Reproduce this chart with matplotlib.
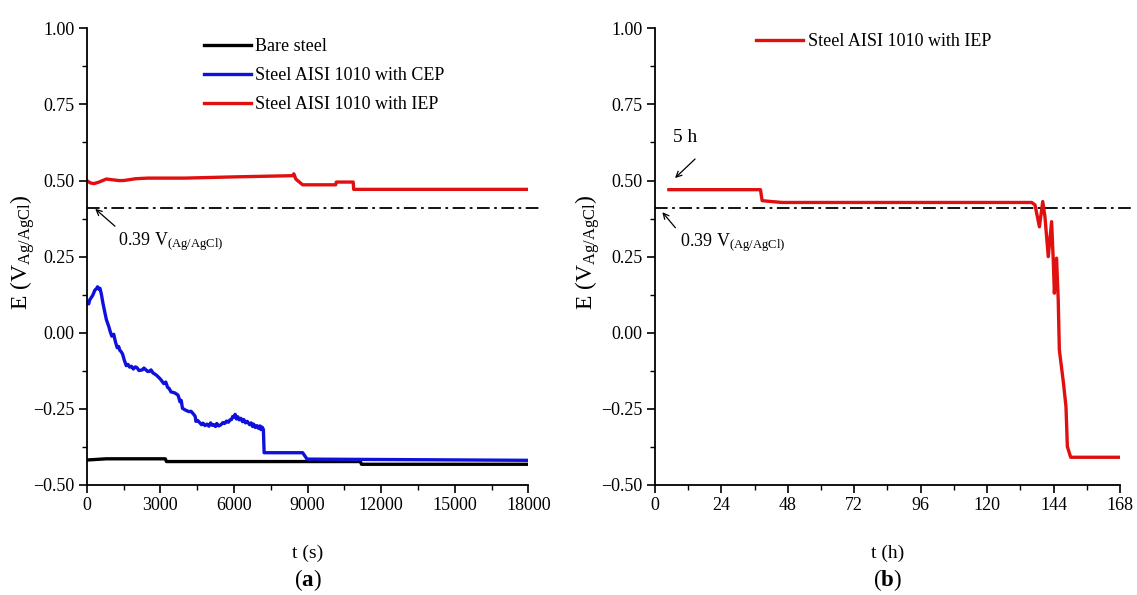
import matplotlib
matplotlib.use("Agg")
import matplotlib.pyplot as plt
from matplotlib.ticker import MultipleLocator

plt.rcParams['font.family'] = ['Liberation Serif', 'DejaVu Serif']
plt.rcParams['mathtext.fontset'] = 'custom'
plt.rcParams['mathtext.rm'] = 'Liberation Serif'
plt.rcParams['mathtext.it'] = 'Liberation Serif:italic'
plt.rcParams['mathtext.bf'] = 'Liberation Serif:bold'

# ---------------- data (a) ----------------
bare_t = [0, 800, 3200, 3250, 11150, 11200, 18000]
bare_E = [-0.418, -0.414, -0.414, -0.423, -0.423, -0.432, -0.432]

cep_t = [0, 40, 80, 120, 180, 250, 330, 400, 440, 500, 540, 600, 660, 730, 800, 900, 960, 1020,
         1100, 1170, 1240, 1300, 1350, 1400, 1460, 1530, 1610, 1680, 1750, 1820, 1900, 1980, 2050,
         2130, 2260, 2330, 2400, 2480, 2550, 2620, 2700, 2780, 2850, 3000, 3140, 3220, 3300, 3360,
         3430, 3520, 3600, 3720, 3760, 3800, 3850, 3900, 3980, 4050, 4160, 4250, 4380, 4420, 4450,
         4520, 4600, 4680, 4740, 4820, 4900, 4980, 5050, 5120, 5180, 5250, 5300, 5380, 5470, 5550,
         5620, 5700, 5770, 5840, 5900, 5950, 5990, 6050, 6100, 6160, 6210, 6280, 6350, 6400, 6470,
         6540, 6640, 6700, 6760, 6800, 6870, 6940, 7000, 7060, 7100, 7150, 7200, 7230, 8800, 8980,
         18000]
cep_E = [0.097, 0.10, 0.095, 0.108, 0.115, 0.124, 0.14, 0.145, 0.151, 0.143, 0.146, 0.125, 0.097,
         0.07, 0.043, 0.02, 0.003, -0.011, -0.005, -0.03, -0.049, -0.045, -0.058, -0.062, -0.070,
         -0.09, -0.108, -0.104, -0.113, -0.110, -0.119, -0.112, -0.115, -0.124, -0.122, -0.116,
         -0.121, -0.127, -0.127, -0.122, -0.132, -0.136, -0.140, -0.152, -0.167, -0.162, -0.180,
         -0.183, -0.194, -0.196, -0.198, -0.205, -0.215, -0.227, -0.222, -0.248, -0.252, -0.255,
         -0.259, -0.258, -0.270, -0.275, -0.291, -0.288, -0.295, -0.302, -0.297, -0.305, -0.300,
         -0.307, -0.296, -0.304, -0.302, -0.308, -0.298, -0.306, -0.302, -0.295, -0.298, -0.290,
         -0.294, -0.286, -0.285, -0.275, -0.277, -0.268, -0.283, -0.276, -0.286, -0.281, -0.292,
         -0.285, -0.296, -0.291, -0.302, -0.296, -0.308, -0.300, -0.311, -0.305, -0.314, -0.306,
         -0.318, -0.310, -0.318, -0.394, -0.394, -0.415, -0.419]

iep_t = [0, 150, 300, 500, 800, 1100, 1300, 1500, 2000, 2500, 4000, 6000, 8400, 8440, 8520,
         8800, 10150, 10170, 10860, 10880, 18000]
iep_E = [0.500, 0.492, 0.490, 0.495, 0.505, 0.502, 0.500, 0.500, 0.506, 0.508, 0.508, 0.512,
         0.516, 0.522, 0.505, 0.486, 0.486, 0.495, 0.495, 0.471, 0.471]

# ---------------- data (b) ----------------
iep_h = [5, 38.1, 38.7, 42, 46, 136.1, 137.3, 138.9, 140.1, 140.9, 142.1, 143.3, 143.9, 144.3,
         145.1, 145.7, 146.1, 147.6, 148.5, 149.0, 150.2, 168]
iep_hE = [0.470, 0.470, 0.434, 0.431, 0.428, 0.428, 0.420, 0.348, 0.431, 0.381, 0.250, 0.365,
          0.239, 0.130, 0.245, 0.108, -0.056, -0.166, -0.243, -0.374, -0.409, -0.409]

threshold = 0.41

fig = plt.figure(figsize=(11.37, 5.95), dpi=100)
axa = fig.add_axes([0.0763, 0.1849, 0.3884, 0.7675])
axb = fig.add_axes([0.5761, 0.1849, 0.4089, 0.7675])

LW = 2.4
axa.plot(bare_t, bare_E, color='black', lw=LW, label='Bare steel')
axa.plot(cep_t, cep_E, color='#1010dd', lw=LW, label='Steel AISI 1010 with CEP')
axa.plot(iep_t, iep_E, color='#e01010', lw=LW, label='Steel AISI 1010 with IEP')
axb.plot(iep_h, iep_hE, color='#e01010', lw=LW, label='Steel AISI 1010 with IEP')

axa.plot([0, 18540], [threshold, threshold], color='black', lw=1.3, ls=(0, (7, 2.5, 1.5, 2.5)),
         clip_on=False)
axb.plot([0, 173], [threshold, threshold], color='black', lw=1.3, ls=(0, (7, 2.5, 1.5, 2.5)),
         clip_on=False)

for ax, xmax, xmaj, xmin_ in [(axa, 18000, 3000, 1500), (axb, 168, 24, 12)]:
    ax.set_xlim(0, xmax)
    ax.set_ylim(-0.5, 1.0)
    ax.xaxis.set_major_locator(MultipleLocator(xmaj))
    ax.xaxis.set_minor_locator(MultipleLocator(xmin_))
    ax.yaxis.set_major_locator(MultipleLocator(0.25))
    ax.yaxis.set_minor_locator(MultipleLocator(0.125))
    ax.yaxis.set_major_formatter(plt.FuncFormatter(lambda v, p: f"{v:.2f}".replace('-', '\u2212')))
    for s in ['top', 'right']:
        ax.spines[s].set_visible(False)
    ax.spines['left'].set_linewidth(1.3)
    ax.spines['bottom'].set_linewidth(1.3)
    ax.tick_params(which='major', direction='out', length=6, width=1.2, labelsize=13, pad=3)
    ax.tick_params(which='minor', direction='out', length=3.5, width=1.0)
    ax.set_ylabel(r'E (V$_{\mathrm{Ag/AgCl}}$)', fontsize=17)

axa.yaxis.set_label_coords(-0.113, 0.51)
axb.yaxis.set_label_coords(-0.115, 0.51)

axa.set_xlabel('t (s)', fontsize=14, labelpad=22)
axb.set_xlabel('t (h)', fontsize=14, labelpad=22)

axa.legend(loc='upper left', bbox_to_anchor=(0.265, 0.978), frameon=False, fontsize=13,
           handlelength=2.6, handletextpad=0.25, labelspacing=0.66, borderpad=0, borderaxespad=0)
axb.legend(loc='upper left', bbox_to_anchor=(0.218, 0.99), frameon=False, fontsize=13,
           handlelength=2.6, handletextpad=0.25, borderpad=0, borderaxespad=0)

# annotations
axa.annotate('', xy=(260, 0.413), xytext=(1235, 0.344),
             arrowprops=dict(arrowstyle='->', color='black', lw=0.9))
axa.text(1280, 0.30, r'0.39 V$_{\mathrm{(Ag/AgCl)}}$', fontsize=13, va='center', ha='left')

axb.annotate('', xy=(2.0, 0.403), xytext=(8.0, 0.338),
             arrowprops=dict(arrowstyle='->', color='black', lw=0.9))
axb.text(9, 0.295, r'0.39 V$_{\mathrm{(Ag/AgCl)}}$', fontsize=13, va='center', ha='left')

axb.annotate('', xy=(6.5, 0.502), xytext=(15.2, 0.577),
             arrowprops=dict(arrowstyle='->', color='black', lw=0.9))
axb.text(11, 0.64, '5 h', fontsize=14, va='center', ha='center')

fig.text(308 / 1137, 1 - 580 / 595, r'($\mathbf{a}$)', fontsize=16.5, ha='center', va='center')
fig.text(887 / 1137, 1 - 580 / 595, r'($\mathbf{b}$)', fontsize=16.5, ha='center', va='center')

fig.savefig('out.png', dpi=100)
